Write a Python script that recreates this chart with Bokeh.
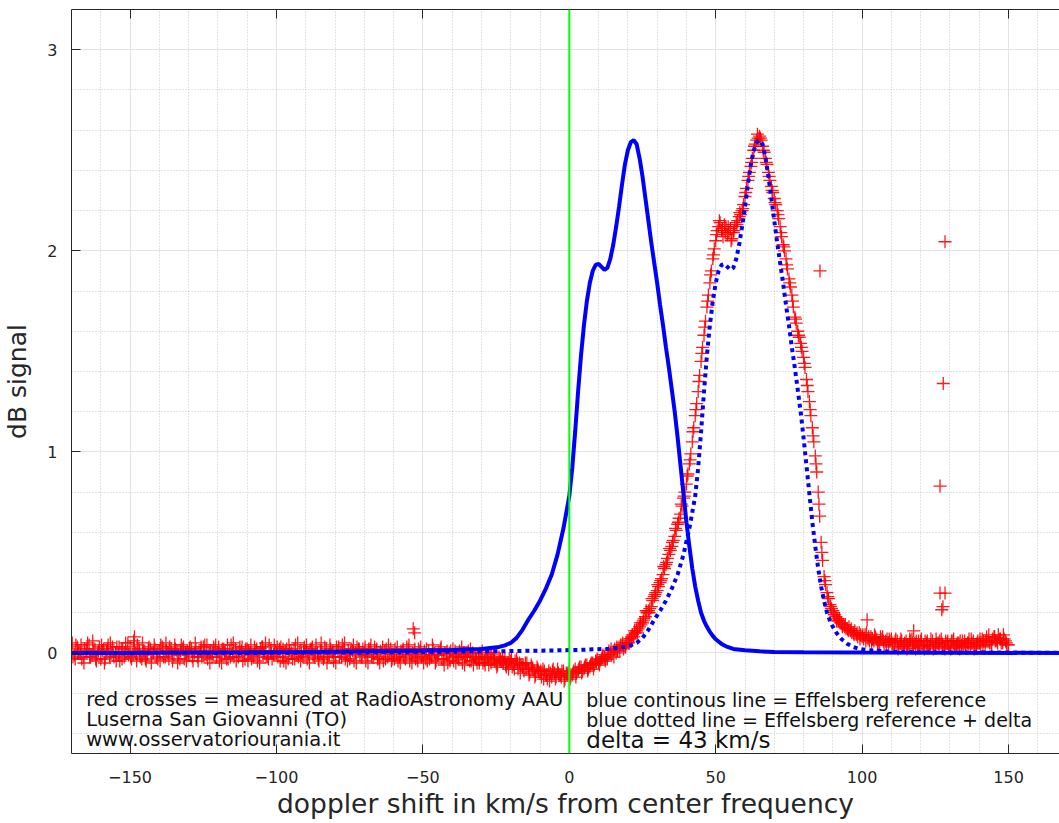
from bokeh.plotting import figure
from bokeh.models import Range1d, LinearAxis, SingleIntervalTicker, Span, Label
from bokeh.embed import file_html
from bokeh.resources import INLINE

# ---------------- data ----------------
# Effelsberg reference profile (km/s, dB)
ref_x = [-170, -150, -130, -110, -90, -70, -60, -50, -40, -35, -30, -27, -24, -22, -20,
         -18, -16, -14, -12, -10, -8, -6, -4, -2, 0, 1, 2, 3, 4, 5, 6, 7, 8, 9, 10,
         11, 12, 13, 14, 15, 16, 17, 18, 19, 20, 21, 22, 23, 24, 25, 26, 27, 28, 29, 30,
         31, 32, 33, 34, 35, 36, 37, 38, 39, 40, 41, 42, 43, 44, 45, 46, 47, 48, 49, 50,
         52, 54, 56, 60, 65, 70, 80, 100, 130, 170]
ref_y = [0.0, 0.0, 0.002, 0.003, 0.005, 0.008, 0.01, 0.012, 0.015, 0.018, 0.02, 0.025, 0.03, 0.038, 0.05,
         0.075, 0.115, 0.165, 0.21, 0.26, 0.32, 0.39, 0.49, 0.62, 0.78, 0.92, 1.10, 1.30, 1.48, 1.63, 1.75, 1.84, 1.90, 1.93, 1.935,
         1.92, 1.905, 1.915, 1.96, 2.03, 2.12, 2.22, 2.33, 2.43, 2.50, 2.54, 2.55, 2.53, 2.46, 2.37, 2.26, 2.15, 2.04, 1.94, 1.84,
         1.73, 1.63, 1.52, 1.42, 1.31, 1.20, 1.07, 0.93, 0.79, 0.65, 0.53, 0.42, 0.33, 0.26, 0.20, 0.16, 0.13, 0.105, 0.085, 0.068,
         0.045, 0.03, 0.02, 0.013, 0.008, 0.005, 0.003, 0.002, 0.001, 0.0]
delta = 43  # km/s shift of the reference

# measured at RadioAstronomy AAU, samples at whole km/s (-170 .. 150)
meas_x = list(range(-170, 151))
meas_y = [
    0.02, -0.01, 0.03, 0.00, -0.02, 0.01, 0.04, -0.01, 0.02, 0.00,
    -0.03, 0.02, 0.01, -0.02, 0.03, 0.00, -0.01, 0.02, -0.02, 0.01,
    0.03, -0.01, 0.00, 0.02, -0.03, 0.01, -0.01, 0.02, 0.00, -0.02,
    0.01, 0.03, -0.02, 0.00, 0.02, -0.01, 0.01, -0.03, 0.02, 0.00,
    -0.01, 0.02, 0.00, -0.02, 0.01, 0.03, -0.01, 0.00, -0.02, 0.02,
    0.00, -0.01, 0.02, -0.03, 0.01, 0.00, 0.02, -0.02, 0.01, -0.01,
    0.02, 0.00, -0.02, 0.01, -0.01, 0.03, 0.00, -0.02, 0.01, -0.01,
    0.00, 0.02, -0.02, 0.01, -0.03, 0.00, 0.02, -0.01, 0.01, -0.02,
    0.01, -0.01, 0.02, -0.02, 0.00, 0.01, -0.03, 0.02, -0.01, 0.00,
    -0.02, 0.01, 0.00, 0.02, -0.01, -0.03, 0.01, 0.00, 0.02, -0.02,
    0.00, -0.01, 0.02, -0.02, 0.01, -0.03, 0.00, 0.01, -0.02, 0.02,
    -0.01, 0.00, -0.02, 0.01, -0.03, 0.02, -0.01, 0.00, -0.02, 0.01,
    -0.01, -0.03, 0.01, -0.02, 0.00, -0.01, 0.02, -0.03, -0.01, 0.00,
    -0.02, 0.01, -0.03, -0.01, 0.00, -0.02, -0.04, 0.00, -0.02, -0.03,
    -0.01, -0.04, -0.02, 0.00, -0.03, -0.05, -0.02, -0.04, -0.03, -0.05,
    -0.04, -0.06, -0.03, -0.05, -0.07, -0.05, -0.08, -0.06, -0.09, -0.07,
    -0.10, -0.08, -0.11, -0.09, -0.12, -0.10, -0.08, -0.11, -0.09, -0.10,
    -0.09, -0.11, -0.08, -0.09, -0.07, -0.08, -0.06, -0.07, -0.05, -0.04,
    -0.05, -0.03, -0.02, -0.03, 0.00, 0.01, 0.00, 0.03, 0.04, 0.03,
    0.06, 0.07, 0.08, 0.11, 0.13, 0.15, 0.18, 0.21, 0.23, 0.28,
    0.31, 0.35, 0.39, 0.44, 0.49, 0.53, 0.58, 0.64, 0.69, 0.77,
    0.84, 0.94, 1.05, 1.18, 1.30, 1.45, 1.58, 1.72, 1.84, 1.96,
    2.05, 2.12, 2.10, 2.13, 2.08, 2.11, 2.09, 2.14, 2.17, 2.20,
    2.27, 2.35, 2.42, 2.50, 2.55, 2.57, 2.52, 2.46, 2.39, 2.32,
    2.26, 2.20, 2.12, 2.03, 1.96, 1.86, 1.78, 1.67, 1.60, 1.54,
    1.47, 1.36, 1.25, 1.12, 0.98, 0.80, 0.55, 0.38, 0.30, 0.24,
    0.21, 0.18, 0.16, 0.15, 0.13, 0.12, 0.11, 0.10, 0.09, 0.10,
    0.08, 0.09, 0.07, 0.08, 0.06, 0.07, 0.05, 0.08, 0.06, 0.05,
    0.07, 0.04, 0.06, 0.05, 0.03, 0.06, 0.04, 0.07, 0.05, 0.03,
    0.06, 0.04, 0.05, 0.03, 0.06, 0.04, 0.05, 0.07, 0.03, 0.05,
    0.04, 0.06, 0.03, 0.05, 0.04, 0.06, 0.05, 0.03, 0.06, 0.04,
    0.05, 0.07, 0.04, 0.06, 0.05, 0.08, 0.06, 0.07, 0.05, 0.06,
    0.04,
]
# measured, samples at half km/s (-169.5 .. 149.5)
meas2_x = [v + 0.5 for v in range(-170, 150)]
meas2_y = [
    -0.02, 0.04, 0.01, -0.03, 0.02, 0.05, -0.02, 0.01, -0.04, 0.03,
    0.01, -0.03, 0.04, 0.00, -0.02, 0.03, -0.04, 0.02, 0.05, -0.01,
    -0.03, 0.02, 0.04, -0.02, 0.01, -0.04, 0.03, 0.00, 0.02, -0.03,
    0.04, -0.02, 0.01, 0.03, -0.04, 0.02, -0.01, 0.04, -0.03, 0.01,
    0.03, -0.04, 0.02, 0.00, -0.02, 0.04, -0.03, 0.01, 0.03, -0.02,
    -0.04, 0.02, 0.01, -0.03, 0.04, -0.02, 0.00, 0.03, -0.04, 0.02,
    0.01, -0.03, 0.03, -0.04, 0.02, 0.00, -0.02, 0.04, -0.03, 0.01,
    -0.02, 0.03, -0.04, 0.02, 0.01, -0.03, 0.04, -0.02, 0.00, 0.03,
    -0.03, 0.02, -0.01, 0.04, -0.04, 0.01, 0.03, -0.02, 0.02, -0.04,
    0.03, -0.02, 0.04, -0.03, 0.01, 0.02, -0.04, 0.03, -0.01, 0.02,
    -0.04, 0.02, -0.02, 0.03, -0.03, 0.01, -0.04, 0.02, 0.00, -0.03,
    0.02, -0.04, 0.01, -0.02, 0.03, -0.04, 0.00, -0.03, 0.02, -0.02,
    0.01, -0.04, -0.01, 0.02, -0.04, 0.01, -0.03, 0.00, -0.05, 0.01,
    -0.04, -0.01, 0.01, -0.05, -0.02, 0.01, -0.04, -0.02, -0.05, 0.00,
    -0.05, -0.02, -0.06, -0.01, -0.04, -0.06, -0.03, -0.05, -0.07, -0.03,
    -0.07, -0.04, -0.08, -0.06, -0.09, -0.05, -0.10, -0.08, -0.11, -0.09,
    -0.12, -0.09, -0.13, -0.10, -0.08, -0.12, -0.11, -0.09, -0.13, -0.10,
    -0.12, -0.09, -0.10, -0.07, -0.09, -0.06, -0.08, -0.05, -0.06, -0.03,
    -0.04, -0.01, -0.03, 0.01, -0.01, 0.02, 0.01, 0.04, 0.02, 0.05,
    0.07, 0.09, 0.10, 0.12, 0.14, 0.17, 0.20, 0.22, 0.26, 0.30,
    0.33, 0.37, 0.42, 0.47, 0.51, 0.56, 0.61, 0.67, 0.73, 0.80,
    0.89, 0.99, 1.12, 1.24, 1.38, 1.52, 1.65, 1.78, 1.90, 2.01,
    2.10, 2.14, 2.07, 2.12, 2.09, 2.06, 2.12, 2.15, 2.18, 2.23,
    2.31, 2.39, 2.46, 2.53, 2.56, 2.55, 2.49, 2.43, 2.35, 2.29,
    2.23, 2.16, 2.07, 2.00, 1.91, 1.82, 1.72, 1.64, 1.57, 1.50,
    1.42, 1.30, 1.18, 1.05, 0.90, 0.68, 0.46, 0.34, 0.27, 0.22,
    0.19, 0.17, 0.15, 0.14, 0.12, 0.13, 0.10, 0.11, 0.08, 0.09,
    0.07, 0.10, 0.06, 0.07, 0.08, 0.05, 0.07, 0.04, 0.07, 0.06,
    0.05, 0.07, 0.03, 0.06, 0.05, 0.04, 0.06, 0.03, 0.06, 0.04,
    0.03, 0.06, 0.04, 0.07, 0.03, 0.05, 0.06, 0.04, 0.06, 0.03,
    0.06, 0.03, 0.05, 0.06, 0.03, 0.04, 0.07, 0.05, 0.03, 0.06,
    0.04, 0.06, 0.08, 0.05, 0.07, 0.06, 0.09, 0.05, 0.07, 0.04,
]
# measured, samples at quarter km/s (-169.75 .. 149.25)
meas3_x = [v + 0.25 for v in range(-170, 150)]
meas3_y = [
    0.05, -0.03, 0.00, 0.04, -0.05, 0.02, -0.02, 0.06, -0.03, 0.01,
    0.04, -0.05, 0.02, 0.05, -0.01, -0.04, 0.03, -0.03, 0.00, 0.05,
    -0.02, 0.06, -0.04, 0.01, 0.05, -0.03, 0.02, -0.05, 0.04, 0.00,
    -0.04, 0.02, 0.05, -0.03, 0.00, 0.04, -0.05, 0.01, 0.03, -0.04,
    0.02, -0.02, 0.05, -0.04, 0.03, -0.01, 0.04, -0.05, 0.00, 0.04,
    0.03, -0.05, 0.00, 0.04, -0.02, 0.05, -0.04, 0.01, 0.03, -0.03,
    -0.04, 0.04, -0.01, 0.02, -0.05, 0.03, 0.05, -0.03, 0.00, 0.04,
    0.03, -0.04, 0.02, -0.05, 0.04, 0.00, -0.03, 0.05, -0.04, 0.01,
    0.04, -0.05, 0.03, 0.00, -0.03, 0.05, -0.02, -0.05, 0.04, 0.01,
    -0.05, 0.03, -0.02, 0.05, -0.04, 0.00, 0.04, -0.05, 0.02, -0.01,
    0.03, -0.05, 0.04, -0.01, 0.02, -0.05, 0.03, -0.03, 0.04, -0.04,
    -0.03, 0.03, -0.05, 0.02, -0.01, 0.04, -0.05, 0.02, -0.04, 0.03,
    -0.05, 0.02, -0.03, 0.04, -0.05, -0.01, 0.03, -0.06, 0.01, -0.04,
    0.02, -0.05, -0.02, 0.03, -0.06, -0.01, 0.02, -0.06, -0.03, -0.05,
    0.01, -0.06, -0.03, -0.05, 0.00, -0.07, -0.04, -0.02, -0.06, -0.08,
    -0.03, -0.08, -0.05, -0.10, -0.06, -0.08, -0.11, -0.07, -0.12, -0.08,
    -0.09, -0.13, -0.11, -0.14, -0.09, -0.13, -0.10, -0.12, -0.14, -0.11,
    -0.13, -0.10, -0.12, -0.08, -0.10, -0.07, -0.09, -0.06, -0.08, -0.05,
    -0.06, -0.02, -0.04, -0.01, 0.02, -0.02, 0.03, 0.01, 0.05, 0.03,
    0.05, 0.08, 0.11, 0.10, 0.15, 0.16, 0.21, 0.20, 0.27, 0.29,
    0.34, 0.36, 0.43, 0.45, 0.52, 0.55, 0.62, 0.65, 0.74, 0.78,
    0.88, 0.96, 1.10, 1.21, 1.35, 1.49, 1.62, 1.75, 1.88, 1.98,
    2.08, 2.15, 2.11, 2.09, 2.12, 2.05, 2.10, 2.13, 2.19, 2.21,
    2.29, 2.37, 2.44, 2.52, 2.58, 2.56, 2.50, 2.44, 2.37, 2.30,
    2.24, 2.18, 2.09, 2.02, 1.93, 1.84, 1.75, 1.66, 1.58, 1.52,
    1.44, 1.33, 1.21, 1.08, 0.94, 0.74, 0.50, 0.36, 0.28, 0.23,
    0.20, 0.16, 0.17, 0.13, 0.14, 0.11, 0.12, 0.09, 0.10, 0.07,
    0.09, 0.06, 0.08, 0.05, 0.09, 0.04, 0.08, 0.06, 0.04, 0.07,
    0.03, 0.06, 0.02, 0.07, 0.04, 0.02, 0.07, 0.05, 0.02, 0.06,
    0.07, 0.02, 0.06, 0.04, 0.02, 0.07, 0.03, 0.05, 0.02, 0.06,
    0.02, 0.07, 0.04, 0.02, 0.06, 0.03, 0.05, 0.07, 0.02, 0.05,
    0.07, 0.03, 0.06, 0.09, 0.04, 0.08, 0.05, 0.07, 0.09, 0.05,
]
# isolated measured points (spikes)
spike_x = [-148.5, -53.3, -52.8, 85.6, 101.7, 117.6, 126.6, 127.7, 128.3, 126.6, 128.3, 127.2, 127.6]
spike_y = [0.08, 0.12, 0.10, 1.90, 0.165, 0.11, 0.83, 1.34, 2.045, 0.298, 0.298, 0.215, 0.23]

x_ticks_interval = 50
y_ticks_interval = 1

dotted_x = [v + delta for v in ref_x]

# ---------------- figure ----------------
FONT = "DejaVu Sans"
AXC = "#262626"

p = figure(width=1059, height=823, output_backend="svg", toolbar_location=None,
           x_range=Range1d(-170, 167.4), y_range=Range1d(-0.5, 3.2),
           min_border_left=70, min_border_right=0, min_border_top=9, min_border_bottom=70,
           x_axis_location=None, y_axis_location=None)
p.outline_line_color = None
p.background_fill_color = "white"
p.border_fill_color = "white"

xt = SingleIntervalTicker(interval=x_ticks_interval, num_minor_ticks=5)
yt = SingleIntervalTicker(interval=y_ticks_interval, num_minor_ticks=5)

def style(ax, labels=True):
    ax.axis_line_color = AXC
    ax.axis_line_width = 1
    ax.major_tick_line_color = AXC
    ax.major_tick_in = 9
    ax.major_tick_out = 0
    ax.minor_tick_line_color = None
    if labels:
        ax.major_label_text_font = FONT
        ax.major_label_text_font_size = "16px"
        ax.major_label_text_color = AXC
        ax.axis_label_text_font = FONT
        ax.axis_label_text_font_style = "normal"
        ax.axis_label_text_color = AXC
    else:
        ax.major_label_text_font_size = "1px"
        ax.major_label_text_color = None
        ax.major_label_standoff = 0

xaxis = LinearAxis(ticker=xt, axis_label="doppler shift in km/s from center frequency")
style(xaxis)
xaxis.axis_label_text_font_size = "26.5px"
xaxis.major_label_standoff = 13
xaxis.axis_label_standoff = 2
p.add_layout(xaxis, "below")

yaxis = LinearAxis(ticker=yt, axis_label="dB signal")
style(yaxis)
yaxis.axis_label_text_font_size = "25px"
yaxis.major_label_standoff = 10
yaxis.axis_label_standoff = 12
p.add_layout(yaxis, "left")

top = LinearAxis(ticker=xt)
style(top, labels=False)
p.add_layout(top, "above")

p.xgrid.ticker = xt
p.ygrid.ticker = yt
for g in (p.xgrid, p.ygrid):
    g.grid_line_color = "#e3e3e3"
    g.grid_line_width = 1
    g.minor_grid_line_color = "#c8c8c8"
    g.minor_grid_line_dash = "1 2"
    g.minor_grid_line_width = 1

# measured crosses
for xs, ys in ((meas_x, meas_y), (meas2_x, meas2_y), (meas3_x, meas3_y), (spike_x, spike_y)):
    p.scatter(xs, ys, marker="cross", size=13, line_color="#ff0000", line_width=1.3, line_alpha=0.9)

# reference + delta (dotted)
p.line(dotted_x, ref_y, line_color="#0000ff", line_width=4, line_dash="4 4")
# reference (continuous)
p.line(ref_x, ref_y, line_color="#0000ff", line_width=4)

# centre line
p.add_layout(Span(location=0, dimension="height", line_color="#00ff00", line_width=2))

# annotations
def lab(x, y, t, size):
    p.add_layout(Label(x=x, y=y, text=t, text_font=FONT, text_font_size=size,
                       text_color="#111111", text_baseline="alphabetic", text_align="left"))

lab(-165, -0.232, "red crosses = measured at RadioAstronomy AAU", "19.5px")
lab(-165, -0.333, "Luserna San Giovanni (TO)", "19.5px")
lab(-165, -0.432, "www.osservatoriourania.it", "19.5px")
lab(5.8, -0.232, "blue continous line = Effelsberg reference", "19px")
lab(5.8, -0.333, "blue dotted line = Effelsberg reference + delta", "19px")
lab(5.8, -0.432, "delta = 43 km/s", "23px")

open("out.html", "w").write(file_html(p, INLINE))
